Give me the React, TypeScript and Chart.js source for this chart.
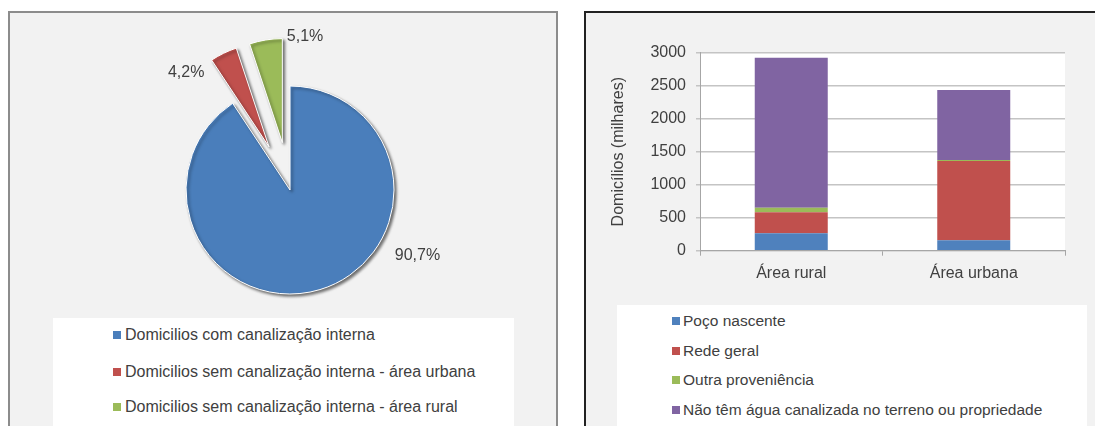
import React, { useEffect, useRef } from 'react';
import { Chart, registerables } from 'chart.js';

Chart.register(...registerables);

// ---------- data ----------
const pieCategories = [
  'Domicilios com canalização interna',
  'Domicilios sem canalização interna - área urbana',
  'Domicilios sem canalização interna - área rural',
];
const pieValues = [90.7, 4.2, 5.1];

const areaCategories = ['Área rural', 'Área urbana'];
const seriesNames = [
  'Poço nascente',
  'Rede geral',
  'Outra proveniência',
  'Não têm água canalizada no terreno ou propriedade',
];
const pocoNascente = [265, 160];
const redeGeral = [317, 1200];
const outraProveniencia = [70, 15];
const naoCanalizada = [2272, 1060];
const yTicks = [0, 500, 1000, 1500, 2000, 2500, 3000];

// ---------- styles ----------
const FONT = '"Liberation Sans", Arial, sans-serif';
const TEXT = '#404040';
const pieColors = ['#4a7ebb', '#c0504d', '#9bbb59'];
const barColors = ['#4f81bd', '#c0504d', '#9bbb59', '#8064a2'];
const pieExplode = [0, 48, 48];
// label placement: angle clockwise from top (deg) and distance as a fraction of radius
const pieLabelPlacement = [
  { angle: 117.4, factor: 1.38 },
  { angle: 318.6, factor: 1.51 },
  { angle: 5.6, factor: 1.48 },
];

// draws each slice moved outwards along its mid angle, with a soft shadow
const explodePlugin = {
  id: 'pieExplode',
  beforeDatasetDraw(chart: any, args: any) {
    const ctx = chart.ctx;
    const meta = args.meta;
    ctx.save();
    ctx.shadowColor = 'rgba(0,0,0,0.55)';
    ctx.shadowBlur = 3;
    ctx.shadowOffsetX = 2;
    ctx.shadowOffsetY = 2;
    meta.data.forEach((arc: any, i: number) => {
      const d = pieExplode[i] || 0;
      const mid = (arc.startAngle + arc.endAngle) / 2;
      ctx.save();
      ctx.translate(Math.cos(mid) * d, Math.sin(mid) * d);
      arc.draw(ctx);
      ctx.restore();
    });
    ctx.restore();
    return false;
  },
};

const pieLabelPlugin = {
  id: 'pieLabels',
  afterDraw(chart: any) {
    const ctx = chart.ctx;
    const meta = chart.getDatasetMeta(0);
    const values = chart.data.datasets[0].data as number[];
    ctx.save();
    ctx.font = `16px ${FONT}`;
    ctx.fillStyle = TEXT;
    ctx.textAlign = 'center';
    ctx.textBaseline = 'middle';
    meta.data.forEach((arc: any, i: number) => {
      const { x, y, outerRadius } = arc.getProps(['x', 'y', 'outerRadius'], true);
      const p = pieLabelPlacement[i];
      const a = ((p.angle - 90) * Math.PI) / 180;
      const text = values[i].toFixed(1).replace('.', ',') + '%';
      ctx.fillText(text, x + Math.cos(a) * outerRadius * p.factor, y + Math.sin(a) * outerRadius * p.factor);
    });
    ctx.restore();
  },
};

const plotBgPlugin = {
  id: 'plotBg',
  beforeDraw(chart: any) {
    const { ctx, chartArea } = chart;
    ctx.save();
    ctx.fillStyle = '#ffffff';
    ctx.fillRect(chartArea.left, chartArea.top, chartArea.right - chartArea.left, chartArea.bottom - chartArea.top);
    ctx.restore();
  },
};

function Legend({ items, colors, markerX, textX, rows, fontSize }: any) {
  return (
    <>
      {items.map((t: string, i: number) => (
        <div
          key={t}
          style={{
            position: 'absolute',
            left: markerX,
            top: rows[i] - 10,
            height: 20,
            display: 'flex',
            alignItems: 'center',
            whiteSpace: 'nowrap',
            fontFamily: FONT,
            fontSize,
            color: TEXT,
          }}
        >
          <span style={{ display: 'inline-block', width: 8, height: 8, background: colors[i], marginRight: textX - markerX - 8 }} />
          <span>{t}</span>
        </div>
      ))}
    </>
  );
}

export default function App() {
  const pieRef = useRef<HTMLCanvasElement>(null);
  const barRef = useRef<HTMLCanvasElement>(null);

  useEffect(() => {
    const pie = new Chart(pieRef.current!, {
      type: 'pie',
      data: {
        labels: pieCategories,
        datasets: [
          {
            data: pieValues,
            backgroundColor: pieColors,
            borderColor: '#ffffff',
            borderWidth: 1,
          },
        ],
      },
      options: {
        animation: false,
        responsive: false,
        radius: 104,
        layout: { padding: { left: 150, right: 136, top: 80, bottom: 26 } },
        plugins: { legend: { display: false }, tooltip: { enabled: false } },
      } as any,
      plugins: [explodePlugin, pieLabelPlugin],
    });

    const tickFont = { family: FONT, size: 16 };
    const bar = new Chart(barRef.current!, {
      type: 'bar',
      data: {
        labels: areaCategories,
        datasets: [pocoNascente, redeGeral, outraProveniencia, naoCanalizada].map((d, i) => ({
          label: seriesNames[i],
          data: d,
          backgroundColor: barColors[i],
          categoryPercentage: 0.4,
          barPercentage: 1,
        })),
      },
      options: {
        animation: false,
        responsive: false,
        layout: { padding: { left: 0, right: 30, top: 38.7, bottom: 0 } },
        plugins: { legend: { display: false }, tooltip: { enabled: false } },
        scales: {
          x: {
            stacked: true,
            grid: { offset: true, drawOnChartArea: false, color: '#a6a6a6', tickLength: 5 },
            border: { color: '#a6a6a6' },
            ticks: { font: tickFont, color: TEXT, padding: 8 },
            afterFit: (s: any) => {
              s.height = 49.3;
            },
          },
          y: {
            stacked: true,
            min: yTicks[0],
            max: yTicks[yTicks.length - 1],
            ticks: {
              stepSize: yTicks[1] - yTicks[0],
              font: tickFont,
              color: TEXT,
              padding: 10,
              callback: (v: any) => String(v),
            },
            grid: { color: '#c4c4c4', lineWidth: 1.5, tickLength: 4 },
            border: { color: '#a6a6a6' },
            title: {
              display: true,
              text: 'Domicílios (milhares)',
              font: { family: FONT, size: 16 },
              color: TEXT,
              padding: { top: 23, bottom: 0 },
            },
            afterFit: (s: any) => {
              s.width = 114;
            },
          },
        },
      } as any,
      plugins: [plotBgPlugin],
    });

    return () => {
      pie.destroy();
      bar.destroy();
    };
  }, []);

  return (
    <div style={{ position: 'fixed', left: 0, top: 0, width: 1095, height: 426, overflow: 'hidden', background: '#ffffff' }}>
      <div
        style={{
          position: 'absolute',
          left: 8,
          top: 11,
          width: 550,
          height: 440,
          boxSizing: 'border-box',
          border: '2px solid #8c8c8c',
          background: '#f2f2f2',
        }}
      />
      <div
        style={{
          position: 'absolute',
          left: 584,
          top: 11,
          width: 530,
          height: 440,
          boxSizing: 'border-box',
          border: '2px solid #222222',
          background: '#f2f2f2',
        }}
      />
      <div style={{ position: 'absolute', left: 53, top: 318, width: 461, height: 120, background: '#ffffff' }} />
      <div style={{ position: 'absolute', left: 617, top: 305, width: 470, height: 130, background: '#ffffff' }} />
      <canvas ref={pieRef} width={546} height={300} style={{ position: 'absolute', left: 10, top: 13, width: 546, height: 300 }} />
      <canvas ref={barRef} width={509} height={286} style={{ position: 'absolute', left: 586, top: 14, width: 509, height: 286 }} />
      <Legend items={pieCategories} colors={pieColors} markerX={113} textX={125} rows={[335, 372, 407]} fontSize={16} />
      <Legend items={seriesNames} colors={barColors} markerX={672} textX={683} rows={[321, 351, 380, 410]} fontSize={15.5} />
    </div>
  );
}
